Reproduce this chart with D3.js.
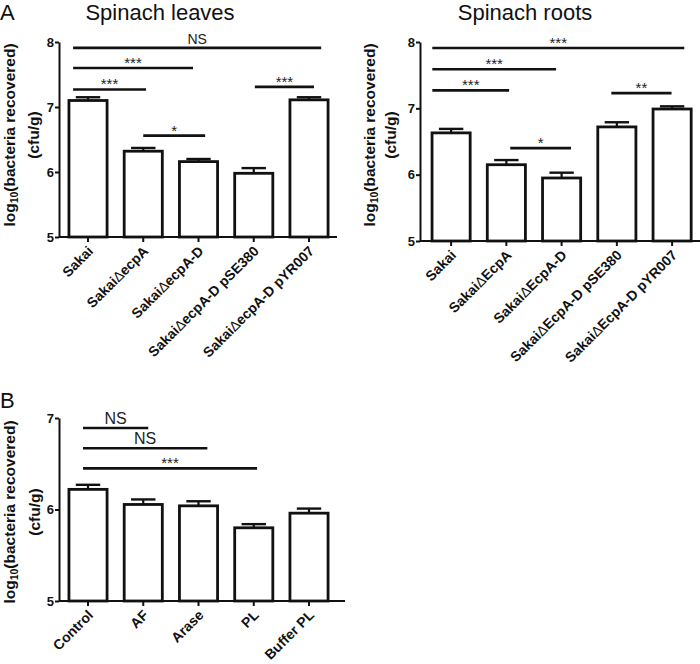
<!DOCTYPE html>
<html>
<head>
<meta charset="utf-8">
<script src="https://cdn.jsdelivr.net/npm/d3@7"></script>
<style>
  body { margin: 0; background: #fff; }
  svg { display: block; font-family: "Liberation Sans", Arial, sans-serif; }
</style>
</head>
<body>
<svg id="chart" width="700" height="664"></svg>
<script>
// ---------- DATA ----------
const leavesCategories = ["Sakai", "SakaiΔecpA", "SakaiΔecpA-D", "SakaiΔecpA-D pSE380", "SakaiΔecpA-D pYR007"];
const leavesMeans = [7.10, 6.32, 6.16, 5.98, 7.11];
const leavesErrors = [0.05, 0.05, 0.04, 0.08, 0.04];
const leavesSig = [
  { from: -0.27, to: 4.22, level: 7.91, label: "NS" },
  { from: -0.27, to: 1.90, level: 7.60, label: "***" },
  { from: -0.27, to: 1.05, level: 7.27, label: "***" },
  { from: 1.00, to: 2.12, level: 6.56, label: "*" },
  { from: 3.02, to: 4.09, level: 7.31, label: "***" }
];
const leavesTicks = [5, 6, 7, 8];

const rootsCategories = ["Sakai", "SakaiΔEcpA", "SakaiΔEcpA-D", "SakaiΔEcpA-D pSE380", "SakaiΔEcpA-D pYR007"];
const rootsMeans = [6.63, 6.15, 5.95, 6.72, 6.99];
const rootsErrors = [0.06, 0.07, 0.08, 0.07, 0.04];
const rootsSig = [
  { from: -0.34, to: 4.22, level: 7.91, label: "***" },
  { from: -0.34, to: 1.90, level: 7.59, label: "***" },
  { from: -0.34, to: 1.05, level: 7.27, label: "***" },
  { from: 1.07, to: 2.17, level: 6.40, label: "*" },
  { from: 2.90, to: 3.99, level: 7.23, label: "**" }
];
const rootsTicks = [5, 6, 7, 8];

const treatCategories = ["Control", "AF", "Arase", "PL", "Buffer PL"];
const treatMeans = [6.22, 6.055, 6.04, 5.80, 5.96];
const treatErrors = [0.05, 0.055, 0.05, 0.04, 0.05];
const treatSig = [
  { from: -0.09, to: 1.09, level: 6.89, label: "NS" },
  { from: -0.09, to: 2.16, level: 6.67, label: "NS" },
  { from: -0.09, to: 3.06, level: 6.45, label: "***" }
];
const treatTicks = [5, 6, 7];

// ---------- DRAW ----------
const svg = d3.select("#chart");
const FONT = '"Liberation Sans", Arial, sans-serif';

function panel(opt) {
  const g = svg.append("g");
  const n = opt.categories.length;
  const pIn = 0.31, pOut = opt.pOut, step = 55.25;
  const x = d3.scaleBand().domain(opt.categories)
    .range([opt.x0, opt.x0 + step * (n - pIn + 2 * pOut)])
    .paddingInner(pIn).paddingOuter(pOut);
  const y = d3.scaleLinear().domain(opt.domain).range([opt.yBottom, opt.yTop]);
  const bw = x.bandwidth();
  const c0 = x(opt.categories[0]) + bw / 2;
  const xi = i => c0 + i * x.step();

  // bars
  g.selectAll("rect.bar").data(opt.means).join("rect")
    .attr("x", (d, i) => x(opt.categories[i]))
    .attr("y", d => y(d))
    .attr("width", bw)
    .attr("height", d => y(opt.domain[0]) - y(d))
    .attr("fill", "#fff").attr("stroke", "#111").attr("stroke-width", 2.8);

  // error bars
  g.selectAll("line.err").data(opt.means).join("line")
    .attr("x1", (d, i) => xi(i)).attr("x2", (d, i) => xi(i))
    .attr("y1", d => y(d)).attr("y2", (d, i) => y(d + opt.errors[i]))
    .attr("stroke", "#111").attr("stroke-width", 2.2);
  g.selectAll("line.cap").data(opt.means).join("line")
    .attr("x1", (d, i) => xi(i) - bw * 0.32).attr("x2", (d, i) => xi(i) + bw * 0.32)
    .attr("y1", (d, i) => y(d + opt.errors[i])).attr("y2", (d, i) => y(d + opt.errors[i]))
    .attr("stroke", "#111").attr("stroke-width", 2.4);

  // y axis
  const ya = g.append("g").attr("transform", `translate(${opt.x0},0)`)
    .call(d3.axisLeft(y).tickValues(opt.yTicks).tickFormat(d3.format("d")).tickSize(4).tickSizeOuter(0));
  ya.select(".domain").attr("stroke", "#111").attr("stroke-width", 2);
  ya.selectAll(".tick line").attr("stroke", "#111").attr("stroke-width", 2);
  ya.selectAll(".tick text").attr("font-size", 13).attr("font-weight", "bold")
    .attr("fill", "#111").attr("x", -5).attr("font-family", FONT);

  // x axis
  const xa = g.append("g").attr("transform", `translate(0,${opt.yBottom})`)
    .call(d3.axisBottom(x).tickSize(5).tickSizeOuter(0).tickFormat(""));
  xa.select(".domain").remove();
  xa.append("line").attr("x1", opt.x0).attr("x2", opt.axisEnd)
    .attr("stroke", "#111").attr("stroke-width", 2);
  xa.selectAll(".tick line").attr("stroke", "#111").attr("stroke-width", 2);
  xa.selectAll(".tick").each(function (d) {
    const t = d3.select(this).append("text")
      .attr("transform", "translate(6,15) rotate(-45)")
      .attr("text-anchor", "end").attr("font-size", 14).attr("font-weight", "bold")
      .attr("fill", "#111").attr("font-family", FONT);
    const parts = d.split("Δ");
    t.append("tspan").text(parts[0]);
    if (parts.length > 1) {
      t.append("tspan").attr("font-weight", "normal").text("Δ");
      t.append("tspan").text(parts[1]);
    }
  });

  // y label
  const cy = opt.labelY;
  const l1 = g.append("text").attr("transform", `translate(${opt.labelX1},${cy}) rotate(-90)`)
    .attr("text-anchor", "middle").attr("font-size", 15.5).attr("font-weight", "bold").attr("fill", "#111");
  l1.append("tspan").text("log");
  l1.append("tspan").attr("font-size", 10.5).attr("dy", 3).text("10");
  l1.append("tspan").attr("dy", -3).text("(bacteria recovered)");
  g.append("text").attr("transform", `translate(${opt.labelX2},${cy}) rotate(-90)`)
    .attr("text-anchor", "middle").attr("font-size", 15.5).attr("font-weight", "bold").attr("fill", "#111")
    .text("(cfu/g)");

  // significance
  opt.sig.forEach(s => {
    g.append("line").attr("x1", xi(s.from)).attr("x2", xi(s.to))
      .attr("y1", y(s.level)).attr("y2", y(s.level))
      .attr("stroke", "#111").attr("stroke-width", 2.6);
    g.append("text").attr("x", (xi(s.from) + xi(s.to)) / 2)
      .attr("y", y(s.level) - (s.label === "NS" ? 4 : 0))
      .attr("text-anchor", "middle")
      .attr("font-size", s.label === "NS" ? opt.nsSize : 15)
      .attr("fill", "#222").text(s.label);
  });

  if (opt.title) {
    g.append("text").attr("x", opt.titleX).attr("y", 20).attr("text-anchor", "middle")
      .attr("font-size", 22).attr("fill", "#111").text(opt.title);
  }
}

panel({ categories: leavesCategories, means: leavesMeans, errors: leavesErrors, sig: leavesSig,
  yTicks: leavesTicks, domain: [5, 8], x0: 59, pOut: 0.18, axisEnd: 337, yTop: 42, yBottom: 237,
  labelX1: 15, labelX2: 39, labelY: 135, nsSize: 14, title: "Spinach leaves", titleX: 160 });
panel({ categories: rootsCategories, means: rootsMeans, errors: rootsErrors, sig: rootsSig,
  yTicks: rootsTicks, domain: [5, 8], x0: 420, pOut: 0.218, axisEnd: 700, yTop: 42, yBottom: 241,
  labelX1: 375, labelX2: 396, labelY: 135, nsSize: 14, title: "Spinach roots", titleX: 525 });
panel({ categories: treatCategories, means: treatMeans, errors: treatErrors, sig: treatSig,
  yTicks: treatTicks, domain: [5, 7], x0: 59, pOut: 0.18, axisEnd: 345, yTop: 418, yBottom: 601,
  labelX1: 15, labelX2: 40, labelY: 512, nsSize: 16 });

svg.append("text").attr("x", 0).attr("y", 20).attr("font-size", 22).attr("fill", "#111").text("A");
svg.append("text").attr("x", 0).attr("y", 408).attr("font-size", 22).attr("fill", "#111").text("B");
</script>
</body>
</html>
